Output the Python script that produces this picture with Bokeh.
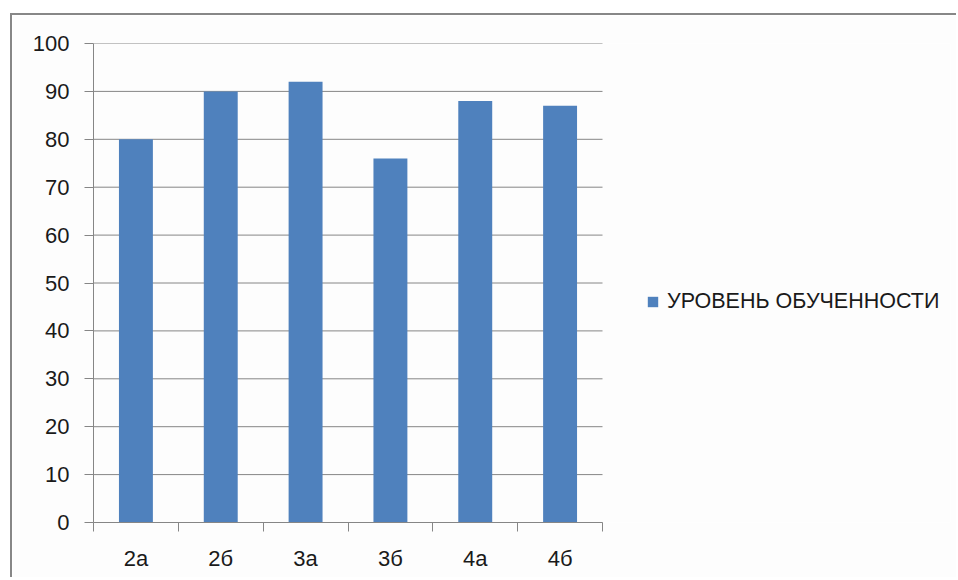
from bokeh.plotting import figure
from bokeh.models import FixedTicker, Legend, LegendItem, ColumnDataSource
from bokeh.embed import file_html
from bokeh.resources import INLINE

categories = ["2а", "2б", "3а", "3б", "4а", "4б"]
values = [80, 90, 92, 76, 88, 87]
y_ticks = [0, 10, 20, 30, 40, 50, 60, 70, 80, 90, 100]
series_name = "УРОВЕНЬ ОБУЧЕННОСТИ"

FONT = "Liberation Sans"
GRAY = "#868686"
BAR = "#4F81BD"

n = len(categories)
xs = [i + 0.5 for i in range(n)]
src = ColumnDataSource(dict(x=xs, top=values, cat=categories))
grid_src = ColumnDataSource(dict(x0=[0] * len(y_ticks), x1=[n] * len(y_ticks), y=y_ticks))

# plot area: categories occupy 509px of a 857px wide frame; the rest holds the legend
x_end = n * 857 / 509

p = figure(width=946, height=564, x_range=(0, x_end), y_range=(0, 100),
           output_backend="svg", toolbar_location=None,
           min_border_left=81, min_border_top=28, min_border_right=8, min_border_bottom=57)
p.margin = (13, 0, 0, 10)
p.styles = {"border-top": "2px solid #878787", "border-left": "2px solid #878787"}
p.background_fill_color = "#fdfdfd"
p.border_fill_color = "#fdfdfd"
p.outline_line_color = None
p.grid.grid_line_color = None

# horizontal gridlines across the category area only
p.segment(x0="x0", x1="x1", y0="y", y1="y", source=grid_src, line_color=GRAY, line_width=1)

r = p.vbar(x="x", top="top", width=0.4, bottom=0, source=src, fill_color=BAR, line_color=None)

# y axis
p.yaxis.ticker = FixedTicker(ticks=y_ticks)
p.yaxis.axis_line_color = GRAY
p.yaxis.major_tick_line_color = GRAY
p.yaxis.major_tick_out = 9
p.yaxis.major_tick_in = 0
p.yaxis.minor_tick_line_color = None
p.yaxis.major_label_standoff = 15
p.yaxis.major_label_text_font = FONT
p.yaxis.major_label_text_font_size = "22px"
p.yaxis.major_label_text_color = "#1a1a1a"

# x axis
p.xaxis.bounds = (0, n)
p.xaxis.ticker = FixedTicker(ticks=xs, minor_ticks=list(range(n + 1)))
p.xaxis.major_label_overrides = {x: c for x, c in zip(xs, categories)}
p.xaxis.axis_line_color = GRAY
p.xaxis.major_tick_line_color = None
p.xaxis.minor_tick_line_color = GRAY
p.xaxis.minor_tick_out = 9
p.xaxis.minor_tick_in = 0
p.xaxis.major_label_standoff = 14
p.xaxis.major_label_text_font = FONT
p.xaxis.major_label_text_font_size = "22px"
p.xaxis.major_label_text_color = "#1a1a1a"

legend = Legend(items=[LegendItem(label=series_name, renderers=[r])],
                location=(553, 208), padding=0, margin=0, spacing=0,
                glyph_width=13, glyph_height=13, label_standoff=8, label_height=13,
                border_line_color=None, background_fill_alpha=0,
                label_text_font=FONT, label_text_font_size="21.5px",
                label_text_color="#1a1a1a")
p.add_layout(legend, "center")

open("out.html", "w").write(file_html(p, INLINE))
